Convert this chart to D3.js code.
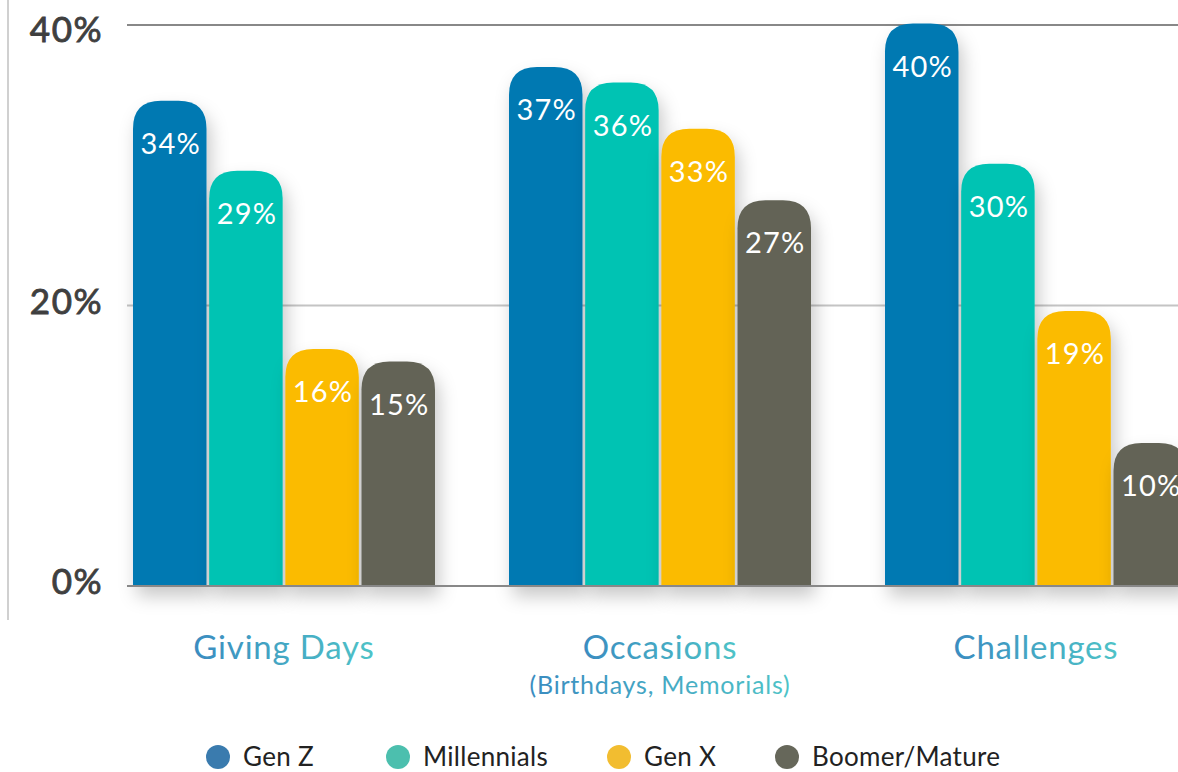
<!DOCTYPE html>
<html>
<head>
<meta charset="utf-8">
<script src="https://cdn.jsdelivr.net/npm/d3@7"></script>
<style>
  body { margin: 0; background: #fff; }
  text { font-family: Lato, "Noto Sans", sans-serif; }
</style>
</head>
<body>
<script>
const width = 1178
const height = 772
const margin = ({top: 25, bottom: 186})

// data
const categories = ["Giving Days", "Occasions", "Challenges"]
const subtitles = ["", "(Birthdays, Memorials)", ""]
const series = ["Gen Z", "Millennials", "Gen X", "Boomer/Mature"]
const barColors = ["#0079b2", "#06c3b3", "#fbbb00", "#636456"]
const legendColors = ["#3a7bae", "#4cbfae", "#f2bd30", "#66675a"]
// bar heights as drawn, and the printed labels
const values = [
  [34.6, 29.6, 16.9, 16.0],
  [37.0, 35.9, 32.6, 27.5],
  [40.1, 30.1, 19.6, 10.2]
]
const labels = [
  ["34%", "29%", "16%", "15%"],
  ["37%", "36%", "33%", "27%"],
  ["40%", "30%", "19%", "10%"]
]
const yTicks = [0, 20, 40]

const x0 = d3.scaleBand()
    .domain(categories)
    .range([96, 1224])
    .paddingInner(0.1968)
    .paddingOuter(0.0984)
const x1 = d3.scaleBand()
    .domain(series)
    .range([0, x0.bandwidth()])
    .paddingInner(0.035)
const y = d3.scaleLinear()
    .domain([0, 40])
    .range([height - margin.bottom, margin.top])
const color = d3.scaleOrdinal().domain(series).range(barColors)

const svg = d3.select("body").append("svg")
    .attr("width", width)
    .attr("height", height)
    .attr("viewBox", [0, 0, width, height])

const defs = svg.append("defs")
defs.append("filter")
    .attr("id", "shadow")
    .attr("x", "-30%").attr("y", "-10%")
    .attr("width", "160%").attr("height", "130%")
  .append("feDropShadow")
    .attr("dx", 4).attr("dy", 10)
    .attr("stdDeviation", 9)
    .attr("flood-color", "#000")
    .attr("flood-opacity", 0.22)
const grad = defs.append("linearGradient")
    .attr("id", "catgrad")
    .attr("x1", "0%").attr("x2", "100%")
grad.append("stop").attr("offset", "0%").attr("stop-color", "#3b8cc0")
grad.append("stop").attr("offset", "100%").attr("stop-color", "#4ec3c7")

// left frame line
svg.append("line")
    .attr("x1", 8).attr("x2", 8)
    .attr("y1", 0).attr("y2", 620)
    .attr("stroke", "#d0d0d0")
    .attr("stroke-width", 2)

// gridlines
svg.append("g")
  .selectAll("line")
  .data(yTicks)
  .join("line")
    .attr("x1", 127).attr("x2", width)
    .attr("y1", d => y(d)).attr("y2", d => y(d))
    .attr("stroke", d => d === 20 ? "#c4c4c4" : "#888")
    .attr("stroke-width", 2)

// y tick labels
svg.append("g")
  .selectAll("text")
  .data(yTicks)
  .join("text")
    .attr("x", 103)
    .attr("y", d => y(d) + (d === 40 ? 17 : 8))
    .attr("text-anchor", "end")
    .attr("font-size", 35)
    .attr("letter-spacing", 1.5)
    .attr("fill", "#3f3f3f")
    .attr("stroke", "#3f3f3f")
    .attr("stroke-width", 0.9)
    .text(d => d + "%")

const rounded = (x, top, w, bottom, r) => {
  const rr = Math.min(r, (bottom - top), w / 2)
  return `M${x},${bottom}V${top + rr}Q${x},${top} ${x + rr},${top}` +
    `H${x + w - rr}Q${x + w},${top} ${x + w},${top + rr}V${bottom}Z`
}

const groups = svg.append("g")
  .selectAll("g")
  .data(categories)
  .join("g")
    .attr("transform", d => `translate(${x0(d)},0)`)

const bars = groups.selectAll("g")
  .data((c, i) => series.map((s, j) => ({s, v: values[i][j], label: labels[i][j]})))
  .join("g")

bars.append("path")
    .attr("filter", "url(#shadow)")
    .attr("fill", d => color(d.s))
    .attr("d", d => rounded(x1(d.s), y(d.v), x1.bandwidth(), y(0), 28))

bars.append("text")
    .attr("x", d => x1(d.s) + x1.bandwidth() / 2 + 1)
    .attr("y", d => y(d.v) + 53)
    .attr("text-anchor", "middle")
    .attr("font-size", 29)
    .attr("letter-spacing", 1.2)
    .attr("fill", "#fff")
    .text(d => d.label)

// baseline over bars
svg.append("line")
    .attr("x1", 127).attr("x2", width)
    .attr("y1", y(0)).attr("y2", y(0))
    .attr("stroke", "#888")
    .attr("stroke-width", 2)

// category labels
groups.append("text")
    .attr("x", x0.bandwidth() / 2)
    .attr("y", 659)
    .attr("text-anchor", "middle")
    .attr("font-size", 33)
    .attr("letter-spacing", 0.8)
    .attr("fill", "url(#catgrad)")
    .text(d => d)
groups.append("text")
    .attr("x", x0.bandwidth() / 2)
    .attr("y", 694)
    .attr("text-anchor", "middle")
    .attr("font-size", 25)
    .attr("letter-spacing", 0.8)
    .attr("fill", "url(#catgrad)")
    .text((d, i) => subtitles[i])

// legend
const legendX = [218, 398, 619, 787]
const legend = svg.append("g")
  .selectAll("g")
  .data(series)
  .join("g")
    .attr("transform", (d, i) => `translate(${legendX[i]},757)`)
legend.append("circle")
    .attr("r", 12)
    .attr("fill", (d, i) => legendColors[i])
legend.append("text")
    .attr("x", 25)
    .attr("y", 9)
    .attr("font-size", 26)
    .attr("letter-spacing", 0.3)
    .attr("fill", "#222")
    .text(d => d)
</script>
</body>
</html>
